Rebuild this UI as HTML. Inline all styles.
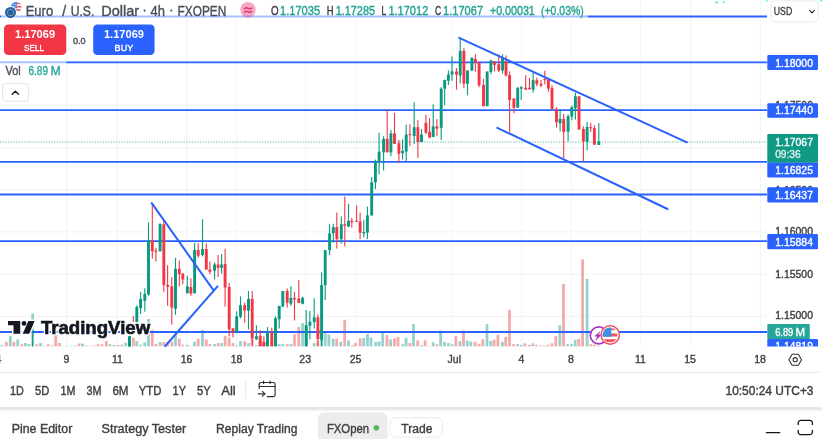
<!DOCTYPE html>
<html><head><meta charset="utf-8"><title>EURUSD chart</title>
<style>html,body{margin:0;padding:0;background:#fff;overflow:hidden}body{width:822px;height:439px;font-family:"Liberation Sans",sans-serif}svg text{font-family:"Liberation Sans",sans-serif}svg{filter:blur(0.35px)}</style>
</head><body>
<svg width="822" height="439" viewBox="0 0 822 439" style="display:block" font-family="Liberation Sans, sans-serif">
<defs><clipPath id="pane"><rect x="0" y="0" width="767.0" height="346.6"/></clipPath></defs>
<rect x="0" y="0" width="822" height="439" fill="#ffffff"/>
<g id="grid" stroke="#f2f3f4" stroke-width="1" clip-path="url(#pane)">
<line x1="66.7" y1="0" x2="66.7" y2="346.6"/>
<line x1="117.1" y1="0" x2="117.1" y2="346.6"/>
<line x1="186.8" y1="0" x2="186.8" y2="346.6"/>
<line x1="236.4" y1="0" x2="236.4" y2="346.6"/>
<line x1="305.9" y1="0" x2="305.9" y2="346.6"/>
<line x1="356.4" y1="0" x2="356.4" y2="346.6"/>
<line x1="451.7" y1="0" x2="451.7" y2="346.6"/>
<line x1="521.7" y1="0" x2="521.7" y2="346.6"/>
<line x1="571.4" y1="0" x2="571.4" y2="346.6"/>
<line x1="640.8" y1="0" x2="640.8" y2="346.6"/>
<line x1="690.7" y1="0" x2="690.7" y2="346.6"/>
<line x1="760.3" y1="0" x2="760.3" y2="346.6"/>
<line x1="0" y1="105.4" x2="767.0" y2="105.4"/>
<line x1="0" y1="147.6" x2="767.0" y2="147.6"/>
<line x1="0" y1="189.9" x2="767.0" y2="189.9"/>
<line x1="0" y1="231.9" x2="767.0" y2="231.9"/>
<line x1="0" y1="274.3" x2="767.0" y2="274.3"/>
<line x1="0" y1="316.5" x2="767.0" y2="316.5"/>
</g>
<g id="vol" clip-path="url(#pane)">
<rect x="0.50" y="345.1" width="2.8" height="1.5" fill="#96d2cd"/>
<rect x="4.90" y="341.9" width="2.8" height="4.7" fill="#f5aaaa"/>
<rect x="8.90" y="336.1" width="2.8" height="10.5" fill="#96d2cd"/>
<rect x="12.50" y="341.9" width="2.8" height="4.7" fill="#f5aaaa"/>
<rect x="16.30" y="339.5" width="2.8" height="7.1" fill="#96d2cd"/>
<rect x="20.40" y="344.3" width="2.8" height="2.3" fill="#f5aaaa"/>
<rect x="23.90" y="343.0" width="2.8" height="3.6" fill="#96d2cd"/>
<rect x="27.50" y="344.0" width="2.8" height="2.6" fill="#96d2cd"/>
<rect x="31.30" y="313.4" width="2.8" height="33.2" fill="#96d2cd"/>
<rect x="35.30" y="344.3" width="2.8" height="2.3" fill="#f5aaaa"/>
<rect x="39.10" y="343.0" width="2.8" height="3.6" fill="#96d2cd"/>
<rect x="42.90" y="345.9" width="2.8" height="0.7" fill="#f5aaaa"/>
<rect x="46.80" y="344.3" width="2.8" height="2.3" fill="#f5aaaa"/>
<rect x="50.80" y="345.5" width="2.8" height="1.1" fill="#96d2cd"/>
<rect x="54.30" y="335.1" width="2.8" height="11.5" fill="#f5aaaa"/>
<rect x="58.10" y="343.0" width="2.8" height="3.6" fill="#f5aaaa"/>
<rect x="61.90" y="346.2" width="2.8" height="0.4" fill="#96d2cd"/>
<rect x="65.80" y="345.9" width="2.8" height="0.7" fill="#96d2cd"/>
<rect x="69.80" y="345.9" width="2.8" height="0.7" fill="#96d2cd"/>
<rect x="73.70" y="345.5" width="2.8" height="1.1" fill="#96d2cd"/>
<rect x="77.70" y="343.5" width="2.8" height="3.1" fill="#f5aaaa"/>
<rect x="81.20" y="343.5" width="2.8" height="3.1" fill="#96d2cd"/>
<rect x="85.00" y="345.5" width="2.8" height="1.1" fill="#f5aaaa"/>
<rect x="88.70" y="345.9" width="2.8" height="0.7" fill="#96d2cd"/>
<rect x="92.90" y="345.5" width="2.8" height="1.1" fill="#f5aaaa"/>
<rect x="96.70" y="344.3" width="2.8" height="2.3" fill="#f5aaaa"/>
<rect x="100.60" y="344.3" width="2.8" height="2.3" fill="#f5aaaa"/>
<rect x="104.90" y="341.1" width="2.8" height="5.5" fill="#f5aaaa"/>
<rect x="108.50" y="344.3" width="2.8" height="2.3" fill="#96d2cd"/>
<rect x="112.50" y="345.1" width="2.8" height="1.5" fill="#96d2cd"/>
<rect x="116.40" y="345.1" width="2.8" height="1.5" fill="#f5aaaa"/>
<rect x="120.40" y="344.6" width="2.8" height="2.0" fill="#96d2cd"/>
<rect x="124.30" y="342.7" width="2.8" height="3.9" fill="#96d2cd"/>
<rect x="128.10" y="336.3" width="2.8" height="10.3" fill="#96d2cd"/>
<rect x="132.00" y="338.0" width="2.8" height="8.6" fill="#f5aaaa"/>
<rect x="135.40" y="341.2" width="2.8" height="5.4" fill="#96d2cd"/>
<rect x="139.20" y="344.6" width="2.8" height="2.0" fill="#96d2cd"/>
<rect x="143.40" y="342.4" width="2.8" height="4.2" fill="#96d2cd"/>
<rect x="147.10" y="319.0" width="2.8" height="27.6" fill="#96d2cd"/>
<rect x="150.90" y="330.0" width="2.8" height="16.6" fill="#f5aaaa"/>
<rect x="154.50" y="343.9" width="2.8" height="2.7" fill="#f5aaaa"/>
<rect x="158.70" y="342.1" width="2.8" height="4.5" fill="#96d2cd"/>
<rect x="162.40" y="342.1" width="2.8" height="4.5" fill="#f5aaaa"/>
<rect x="166.20" y="342.1" width="2.8" height="4.5" fill="#f5aaaa"/>
<rect x="170.40" y="341.7" width="2.8" height="4.9" fill="#f5aaaa"/>
<rect x="174.10" y="333.6" width="2.8" height="13.0" fill="#96d2cd"/>
<rect x="177.90" y="338.7" width="2.8" height="7.9" fill="#f5aaaa"/>
<rect x="181.40" y="344.6" width="2.8" height="2.0" fill="#f5aaaa"/>
<rect x="185.90" y="345.0" width="2.8" height="1.6" fill="#96d2cd"/>
<rect x="189.50" y="346.0" width="2.8" height="0.6" fill="#f5aaaa"/>
<rect x="193.20" y="341.7" width="2.8" height="4.9" fill="#96d2cd"/>
<rect x="196.80" y="338.7" width="2.8" height="7.9" fill="#f5aaaa"/>
<rect x="201.10" y="330.0" width="2.8" height="16.6" fill="#96d2cd"/>
<rect x="204.90" y="339.5" width="2.8" height="7.1" fill="#f5aaaa"/>
<rect x="208.50" y="343.9" width="2.8" height="2.7" fill="#f5aaaa"/>
<rect x="213.20" y="344.1" width="2.8" height="2.5" fill="#96d2cd"/>
<rect x="216.70" y="343.1" width="2.8" height="3.5" fill="#f5aaaa"/>
<rect x="220.20" y="343.1" width="2.8" height="3.5" fill="#96d2cd"/>
<rect x="223.70" y="335.8" width="2.8" height="10.8" fill="#f5aaaa"/>
<rect x="227.80" y="337.7" width="2.8" height="8.9" fill="#f5aaaa"/>
<rect x="231.60" y="343.1" width="2.8" height="3.5" fill="#f5aaaa"/>
<rect x="235.30" y="345.3" width="2.8" height="1.3" fill="#96d2cd"/>
<rect x="239.10" y="341.2" width="2.8" height="5.4" fill="#96d2cd"/>
<rect x="243.30" y="341.2" width="2.8" height="5.4" fill="#f5aaaa"/>
<rect x="247.10" y="343.1" width="2.8" height="3.5" fill="#96d2cd"/>
<rect x="250.80" y="335.1" width="2.8" height="11.5" fill="#f5aaaa"/>
<rect x="255.00" y="345.0" width="2.8" height="1.6" fill="#96d2cd"/>
<rect x="258.80" y="340.0" width="2.8" height="6.6" fill="#f5aaaa"/>
<rect x="262.50" y="342.0" width="2.8" height="4.6" fill="#f5aaaa"/>
<rect x="266.10" y="340.0" width="2.8" height="6.6" fill="#96d2cd"/>
<rect x="270.40" y="341.0" width="2.8" height="5.6" fill="#f5aaaa"/>
<rect x="274.10" y="338.0" width="2.8" height="8.6" fill="#96d2cd"/>
<rect x="277.80" y="344.1" width="2.8" height="2.5" fill="#96d2cd"/>
<rect x="281.40" y="344.1" width="2.8" height="2.5" fill="#96d2cd"/>
<rect x="285.80" y="344.1" width="2.8" height="2.5" fill="#f5aaaa"/>
<rect x="289.50" y="344.1" width="2.8" height="2.5" fill="#96d2cd"/>
<rect x="293.10" y="334.4" width="2.8" height="12.2" fill="#f5aaaa"/>
<rect x="297.40" y="327.1" width="2.8" height="19.5" fill="#f5aaaa"/>
<rect x="301.20" y="323.1" width="2.8" height="23.5" fill="#96d2cd"/>
<rect x="304.80" y="325.3" width="2.8" height="21.3" fill="#96d2cd"/>
<rect x="308.50" y="346.0" width="2.8" height="0.6" fill="#96d2cd"/>
<rect x="312.80" y="343.1" width="2.8" height="3.5" fill="#96d2cd"/>
<rect x="316.50" y="340.9" width="2.8" height="5.7" fill="#f5aaaa"/>
<rect x="320.20" y="332.0" width="2.8" height="14.6" fill="#96d2cd"/>
<rect x="323.80" y="331.4" width="2.8" height="15.2" fill="#96d2cd"/>
<rect x="327.40" y="334.4" width="2.8" height="12.2" fill="#96d2cd"/>
<rect x="331.70" y="338.7" width="2.8" height="7.9" fill="#96d2cd"/>
<rect x="335.30" y="338.7" width="2.8" height="7.9" fill="#f5aaaa"/>
<rect x="339.40" y="341.9" width="2.8" height="4.7" fill="#96d2cd"/>
<rect x="343.30" y="319.8" width="2.8" height="26.8" fill="#f5aaaa"/>
<rect x="347.10" y="340.3" width="2.8" height="6.3" fill="#96d2cd"/>
<rect x="350.90" y="345.1" width="2.8" height="1.5" fill="#f5aaaa"/>
<rect x="354.10" y="343.0" width="2.8" height="3.6" fill="#f5aaaa"/>
<rect x="358.70" y="338.4" width="2.8" height="8.2" fill="#f5aaaa"/>
<rect x="362.30" y="338.0" width="2.8" height="8.6" fill="#96d2cd"/>
<rect x="366.10" y="334.0" width="2.8" height="12.6" fill="#96d2cd"/>
<rect x="369.60" y="337.6" width="2.8" height="9.0" fill="#96d2cd"/>
<rect x="374.30" y="341.9" width="2.8" height="4.7" fill="#96d2cd"/>
<rect x="377.70" y="341.4" width="2.8" height="5.2" fill="#96d2cd"/>
<rect x="381.30" y="331.6" width="2.8" height="15.0" fill="#96d2cd"/>
<rect x="385.60" y="335.1" width="2.8" height="11.5" fill="#f5aaaa"/>
<rect x="389.20" y="339.5" width="2.8" height="7.1" fill="#96d2cd"/>
<rect x="393.00" y="338.4" width="2.8" height="8.2" fill="#f5aaaa"/>
<rect x="396.60" y="336.8" width="2.8" height="9.8" fill="#f5aaaa"/>
<rect x="401.40" y="344.3" width="2.8" height="2.3" fill="#96d2cd"/>
<rect x="404.70" y="337.6" width="2.8" height="9.0" fill="#96d2cd"/>
<rect x="408.50" y="343.0" width="2.8" height="3.6" fill="#f5aaaa"/>
<rect x="412.10" y="324.0" width="2.8" height="22.6" fill="#96d2cd"/>
<rect x="416.30" y="340.3" width="2.8" height="6.3" fill="#f5aaaa"/>
<rect x="420.00" y="345.1" width="2.8" height="1.5" fill="#96d2cd"/>
<rect x="423.70" y="340.3" width="2.8" height="6.3" fill="#f5aaaa"/>
<rect x="428.00" y="345.9" width="2.8" height="0.7" fill="#f5aaaa"/>
<rect x="431.80" y="342.2" width="2.8" height="4.4" fill="#96d2cd"/>
<rect x="435.40" y="344.3" width="2.8" height="2.3" fill="#f5aaaa"/>
<rect x="439.20" y="330.4" width="2.8" height="16.2" fill="#96d2cd"/>
<rect x="443.10" y="341.9" width="2.8" height="4.7" fill="#96d2cd"/>
<rect x="446.90" y="343.0" width="2.8" height="3.6" fill="#96d2cd"/>
<rect x="450.60" y="344.3" width="2.8" height="2.3" fill="#96d2cd"/>
<rect x="454.50" y="336.1" width="2.8" height="10.5" fill="#f5aaaa"/>
<rect x="458.50" y="341.1" width="2.8" height="5.5" fill="#96d2cd"/>
<rect x="462.10" y="330.4" width="2.8" height="16.2" fill="#f5aaaa"/>
<rect x="465.90" y="340.4" width="2.8" height="6.2" fill="#96d2cd"/>
<rect x="469.50" y="341.5" width="2.8" height="5.1" fill="#96d2cd"/>
<rect x="473.80" y="341.9" width="2.8" height="4.7" fill="#f5aaaa"/>
<rect x="477.60" y="343.7" width="2.8" height="2.9" fill="#f5aaaa"/>
<rect x="481.40" y="339.3" width="2.8" height="7.3" fill="#f5aaaa"/>
<rect x="485.60" y="324.1" width="2.8" height="22.5" fill="#96d2cd"/>
<rect x="489.40" y="341.0" width="2.8" height="5.6" fill="#96d2cd"/>
<rect x="492.70" y="339.7" width="2.8" height="6.9" fill="#f5aaaa"/>
<rect x="496.50" y="334.8" width="2.8" height="11.8" fill="#f5aaaa"/>
<rect x="501.00" y="341.9" width="2.8" height="4.7" fill="#96d2cd"/>
<rect x="504.30" y="337.0" width="2.8" height="9.6" fill="#f5aaaa"/>
<rect x="508.10" y="309.8" width="2.8" height="36.8" fill="#f5aaaa"/>
<rect x="512.20" y="344.2" width="2.8" height="2.4" fill="#f5aaaa"/>
<rect x="516.20" y="344.2" width="2.8" height="2.4" fill="#96d2cd"/>
<rect x="520.00" y="344.8" width="2.8" height="1.8" fill="#96d2cd"/>
<rect x="523.50" y="343.3" width="2.8" height="3.3" fill="#f5aaaa"/>
<rect x="527.80" y="344.8" width="2.8" height="1.8" fill="#f5aaaa"/>
<rect x="531.40" y="343.3" width="2.8" height="3.3" fill="#96d2cd"/>
<rect x="535.10" y="344.8" width="2.8" height="1.8" fill="#f5aaaa"/>
<rect x="539.10" y="345.5" width="2.8" height="1.1" fill="#f5aaaa"/>
<rect x="543.00" y="345.5" width="2.8" height="1.1" fill="#f5aaaa"/>
<rect x="546.70" y="344.8" width="2.8" height="1.8" fill="#f5aaaa"/>
<rect x="550.50" y="343.3" width="2.8" height="3.3" fill="#f5aaaa"/>
<rect x="554.40" y="335.9" width="2.8" height="10.7" fill="#f5aaaa"/>
<rect x="558.40" y="325.2" width="2.8" height="21.4" fill="#96d2cd"/>
<rect x="562.10" y="283.9" width="2.8" height="62.7" fill="#f5aaaa"/>
<rect x="566.20" y="344.2" width="2.8" height="2.4" fill="#96d2cd"/>
<rect x="570.20" y="344.2" width="2.8" height="2.4" fill="#96d2cd"/>
<rect x="573.80" y="339.7" width="2.8" height="6.9" fill="#96d2cd"/>
<rect x="577.40" y="338.8" width="2.8" height="7.8" fill="#f5aaaa"/>
<rect x="581.20" y="259.4" width="2.8" height="87.2" fill="#f5aaaa"/>
<rect x="585.70" y="279.0" width="2.8" height="67.6" fill="#96d2cd"/>
<rect x="589.50" y="344.2" width="2.8" height="2.4" fill="#f5aaaa"/>
<rect x="593.20" y="344.8" width="2.8" height="1.8" fill="#f5aaaa"/>
<rect x="597.00" y="345.7" width="2.8" height="0.9" fill="#96d2cd"/>
</g>
<g id="hlines" stroke="#2962ff" stroke-width="1.8">
<line x1="0" y1="16.5" x2="767.0" y2="16.5"/>
<line x1="0" y1="62.4" x2="767.0" y2="62.4"/>
<line x1="0" y1="110.1" x2="767.0" y2="110.1"/>
<line x1="0" y1="161.9" x2="767.0" y2="161.9"/>
<line x1="0" y1="194.5" x2="767.0" y2="194.5"/>
<line x1="0" y1="241.1" x2="767.0" y2="241.1"/>
<line x1="0" y1="332.0" x2="767.0" y2="332.0"/>
</g>
<g id="candles" clip-path="url(#pane)">
<rect x="32.15" y="329.3" width="1.1" height="17.7" fill="#089981"/>
<rect x="128.95" y="335.5" width="1.1" height="11.5" fill="#089981"/>
<rect x="128.05" y="336.3" width="2.9" height="10.7" fill="#089981"/>
<rect x="132.85" y="316.1" width="1.1" height="5.9" fill="#f23645"/>
<rect x="136.25" y="305.2" width="1.1" height="17.0" fill="#089981"/>
<rect x="135.35" y="307.1" width="2.9" height="15.1" fill="#089981"/>
<rect x="140.05" y="292.0" width="1.1" height="21.9" fill="#089981"/>
<rect x="139.15" y="299.0" width="2.9" height="9.1" fill="#089981"/>
<rect x="144.25" y="288.4" width="1.1" height="23.3" fill="#089981"/>
<rect x="143.35" y="293.9" width="2.9" height="6.9" fill="#089981"/>
<rect x="147.95" y="222.4" width="1.1" height="73.3" fill="#089981"/>
<rect x="147.05" y="240.4" width="2.9" height="54.1" fill="#089981"/>
<rect x="151.75" y="203.1" width="1.1" height="55.5" fill="#f23645"/>
<rect x="150.85" y="240.4" width="2.9" height="10.9" fill="#f23645"/>
<rect x="155.35" y="247.7" width="1.1" height="13.8" fill="#f23645"/>
<rect x="154.45" y="250.6" width="2.9" height="1.2" fill="#f23645"/>
<rect x="159.55" y="223.3" width="1.1" height="28.0" fill="#089981"/>
<rect x="158.65" y="223.9" width="2.9" height="27.4" fill="#089981"/>
<rect x="163.25" y="219.2" width="1.1" height="73.0" fill="#f23645"/>
<rect x="162.35" y="224.3" width="2.9" height="60.6" fill="#f23645"/>
<rect x="167.05" y="265.2" width="1.1" height="40.7" fill="#f23645"/>
<rect x="166.15" y="284.9" width="2.9" height="1.9" fill="#f23645"/>
<rect x="171.25" y="276.9" width="1.1" height="47.7" fill="#f23645"/>
<rect x="170.35" y="286.4" width="2.9" height="21.2" fill="#f23645"/>
<rect x="174.95" y="257.9" width="1.1" height="57.0" fill="#089981"/>
<rect x="174.05" y="268.8" width="2.9" height="40.0" fill="#089981"/>
<rect x="178.75" y="260.5" width="1.1" height="25.9" fill="#f23645"/>
<rect x="177.85" y="268.8" width="2.9" height="5.4" fill="#f23645"/>
<rect x="182.25" y="273.0" width="1.1" height="11.2" fill="#f23645"/>
<rect x="181.35" y="273.7" width="2.9" height="5.8" fill="#f23645"/>
<rect x="186.75" y="275.7" width="1.1" height="17.8" fill="#089981"/>
<rect x="185.85" y="286.4" width="2.9" height="6.8" fill="#089981"/>
<rect x="190.35" y="278.3" width="1.1" height="17.5" fill="#f23645"/>
<rect x="189.45" y="287.1" width="2.9" height="6.5" fill="#f23645"/>
<rect x="194.05" y="243.0" width="1.1" height="50.5" fill="#089981"/>
<rect x="193.15" y="249.9" width="2.9" height="43.3" fill="#089981"/>
<rect x="197.65" y="243.3" width="1.1" height="14.3" fill="#f23645"/>
<rect x="196.75" y="249.9" width="2.9" height="5.8" fill="#f23645"/>
<rect x="201.95" y="219.2" width="1.1" height="37.2" fill="#089981"/>
<rect x="201.05" y="249.1" width="2.9" height="5.9" fill="#089981"/>
<rect x="205.75" y="243.3" width="1.1" height="26.3" fill="#f23645"/>
<rect x="204.85" y="249.1" width="2.9" height="20.5" fill="#f23645"/>
<rect x="209.35" y="261.5" width="1.1" height="12.7" fill="#f23645"/>
<rect x="208.45" y="269.6" width="2.9" height="2.2" fill="#f23645"/>
<rect x="214.05" y="262.3" width="1.1" height="17.2" fill="#089981"/>
<rect x="213.15" y="264.5" width="2.9" height="6.2" fill="#089981"/>
<rect x="217.55" y="255.0" width="1.1" height="21.9" fill="#f23645"/>
<rect x="216.65" y="264.5" width="2.9" height="3.3" fill="#f23645"/>
<rect x="221.05" y="254.2" width="1.1" height="19.5" fill="#089981"/>
<rect x="220.15" y="264.5" width="2.9" height="3.3" fill="#089981"/>
<rect x="224.55" y="248.8" width="1.1" height="57.8" fill="#f23645"/>
<rect x="223.65" y="264.0" width="2.9" height="23.5" fill="#f23645"/>
<rect x="228.65" y="283.0" width="1.1" height="53.6" fill="#f23645"/>
<rect x="227.75" y="287.1" width="2.9" height="42.2" fill="#f23645"/>
<rect x="232.45" y="327.8" width="1.1" height="9.5" fill="#f23645"/>
<rect x="231.55" y="328.5" width="2.9" height="3.7" fill="#f23645"/>
<rect x="236.15" y="311.4" width="1.1" height="20.6" fill="#089981"/>
<rect x="235.25" y="316.4" width="2.9" height="15.6" fill="#089981"/>
<rect x="239.95" y="296.4" width="1.1" height="21.9" fill="#089981"/>
<rect x="239.05" y="305.2" width="2.9" height="11.6" fill="#089981"/>
<rect x="244.15" y="302.7" width="1.1" height="20.0" fill="#f23645"/>
<rect x="243.25" y="305.2" width="2.9" height="5.4" fill="#f23645"/>
<rect x="247.95" y="291.0" width="1.1" height="38.3" fill="#089981"/>
<rect x="247.05" y="299.0" width="2.9" height="11.6" fill="#089981"/>
<rect x="251.65" y="291.0" width="1.1" height="55.5" fill="#f23645"/>
<rect x="250.75" y="299.0" width="2.9" height="39.0" fill="#f23645"/>
<rect x="255.85" y="325.3" width="1.1" height="14.7" fill="#089981"/>
<rect x="254.95" y="336.3" width="2.9" height="2.9" fill="#089981"/>
<rect x="259.65" y="330.0" width="1.1" height="16.5" fill="#f23645"/>
<rect x="258.75" y="335.8" width="2.9" height="10.7" fill="#f23645"/>
<rect x="263.35" y="336.3" width="1.1" height="10.2" fill="#f23645"/>
<rect x="262.45" y="341.7" width="2.9" height="4.8" fill="#f23645"/>
<rect x="266.95" y="327.1" width="1.1" height="19.4" fill="#089981"/>
<rect x="266.05" y="332.2" width="2.9" height="14.3" fill="#089981"/>
<rect x="271.25" y="327.8" width="1.1" height="18.7" fill="#f23645"/>
<rect x="270.35" y="332.2" width="2.9" height="14.3" fill="#f23645"/>
<rect x="274.95" y="316.4" width="1.1" height="30.1" fill="#089981"/>
<rect x="274.05" y="318.3" width="2.9" height="28.2" fill="#089981"/>
<rect x="278.65" y="305.9" width="1.1" height="22.6" fill="#089981"/>
<rect x="277.75" y="305.9" width="2.9" height="13.4" fill="#089981"/>
<rect x="282.25" y="291.0" width="1.1" height="15.6" fill="#089981"/>
<rect x="281.35" y="291.0" width="2.9" height="15.6" fill="#089981"/>
<rect x="286.65" y="288.4" width="1.1" height="19.2" fill="#f23645"/>
<rect x="285.75" y="291.0" width="2.9" height="11.7" fill="#f23645"/>
<rect x="290.35" y="286.2" width="1.1" height="19.7" fill="#089981"/>
<rect x="289.45" y="297.9" width="2.9" height="5.8" fill="#089981"/>
<rect x="293.95" y="292.0" width="1.1" height="28.5" fill="#f23645"/>
<rect x="293.05" y="297.9" width="2.9" height="1.4" fill="#f23645"/>
<rect x="298.25" y="280.0" width="1.1" height="23.0" fill="#f23645"/>
<rect x="297.35" y="298.6" width="2.9" height="4.4" fill="#f23645"/>
<rect x="302.05" y="296.8" width="1.1" height="7.6" fill="#089981"/>
<rect x="301.15" y="297.9" width="2.9" height="5.8" fill="#089981"/>
<rect x="305.65" y="310.0" width="1.1" height="36.5" fill="#089981"/>
<rect x="304.75" y="325.3" width="2.9" height="21.2" fill="#089981"/>
<rect x="309.35" y="311.0" width="1.1" height="28.2" fill="#089981"/>
<rect x="308.45" y="321.7" width="2.9" height="3.9" fill="#089981"/>
<rect x="313.65" y="298.3" width="1.1" height="30.2" fill="#089981"/>
<rect x="312.75" y="317.3" width="2.9" height="4.7" fill="#089981"/>
<rect x="317.35" y="314.4" width="1.1" height="32.1" fill="#f23645"/>
<rect x="316.45" y="317.3" width="2.9" height="21.9" fill="#f23645"/>
<rect x="321.05" y="272.4" width="1.1" height="74.1" fill="#089981"/>
<rect x="320.15" y="285.1" width="2.9" height="54.7" fill="#089981"/>
<rect x="324.65" y="250.1" width="1.1" height="49.9" fill="#089981"/>
<rect x="323.75" y="250.1" width="2.9" height="35.0" fill="#089981"/>
<rect x="329.05" y="224.3" width="1.1" height="30.9" fill="#089981"/>
<rect x="328.15" y="233.5" width="2.9" height="16.6" fill="#089981"/>
<rect x="332.75" y="223.7" width="1.1" height="19.1" fill="#089981"/>
<rect x="331.85" y="227.2" width="2.9" height="6.1" fill="#089981"/>
<rect x="336.25" y="212.6" width="1.1" height="36.0" fill="#f23645"/>
<rect x="335.35" y="227.0" width="2.9" height="12.1" fill="#f23645"/>
<rect x="340.75" y="216.4" width="1.1" height="27.1" fill="#089981"/>
<rect x="339.85" y="224.3" width="2.9" height="14.8" fill="#089981"/>
<rect x="344.25" y="196.6" width="1.1" height="49.8" fill="#f23645"/>
<rect x="343.35" y="224.3" width="2.9" height="1.5" fill="#f23645"/>
<rect x="347.95" y="203.9" width="1.1" height="23.1" fill="#089981"/>
<rect x="347.05" y="220.8" width="2.9" height="5.7" fill="#089981"/>
<rect x="351.25" y="217.9" width="1.1" height="9.8" fill="#f23645"/>
<rect x="350.35" y="220.8" width="2.9" height="1.5" fill="#f23645"/>
<rect x="356.05" y="205.3" width="1.1" height="16.7" fill="#f23645"/>
<rect x="355.15" y="220.8" width="2.9" height="1.0" fill="#f23645"/>
<rect x="359.55" y="212.6" width="1.1" height="26.5" fill="#f23645"/>
<rect x="358.65" y="221.4" width="2.9" height="11.2" fill="#f23645"/>
<rect x="363.25" y="219.9" width="1.1" height="17.5" fill="#089981"/>
<rect x="362.35" y="232.0" width="2.9" height="1.3" fill="#089981"/>
<rect x="366.85" y="206.5" width="1.1" height="32.6" fill="#089981"/>
<rect x="365.95" y="215.3" width="2.9" height="17.3" fill="#089981"/>
<rect x="371.15" y="177.0" width="1.1" height="38.5" fill="#089981"/>
<rect x="370.25" y="182.4" width="2.9" height="33.1" fill="#089981"/>
<rect x="374.85" y="159.6" width="1.1" height="29.4" fill="#089981"/>
<rect x="373.95" y="161.1" width="2.9" height="21.3" fill="#089981"/>
<rect x="378.55" y="132.6" width="1.1" height="41.8" fill="#089981"/>
<rect x="377.65" y="151.6" width="2.9" height="10.2" fill="#089981"/>
<rect x="383.05" y="136.3" width="1.1" height="34.3" fill="#089981"/>
<rect x="382.15" y="138.9" width="2.9" height="13.4" fill="#089981"/>
<rect x="386.65" y="109.1" width="1.1" height="43.2" fill="#f23645"/>
<rect x="385.75" y="138.9" width="2.9" height="13.4" fill="#f23645"/>
<rect x="390.35" y="130.1" width="1.1" height="25.9" fill="#089981"/>
<rect x="389.45" y="133.4" width="2.9" height="18.9" fill="#089981"/>
<rect x="393.95" y="112.9" width="1.1" height="31.0" fill="#f23645"/>
<rect x="393.05" y="133.4" width="2.9" height="10.5" fill="#f23645"/>
<rect x="398.35" y="139.9" width="1.1" height="22.7" fill="#f23645"/>
<rect x="397.45" y="143.3" width="2.9" height="10.5" fill="#f23645"/>
<rect x="402.05" y="139.2" width="1.1" height="20.4" fill="#089981"/>
<rect x="401.15" y="150.9" width="2.9" height="2.2" fill="#089981"/>
<rect x="405.65" y="124.6" width="1.1" height="37.2" fill="#089981"/>
<rect x="404.75" y="134.5" width="2.9" height="17.1" fill="#089981"/>
<rect x="409.35" y="124.3" width="1.1" height="21.5" fill="#f23645"/>
<rect x="408.45" y="134.1" width="2.9" height="1.0" fill="#f23645"/>
<rect x="413.65" y="102.3" width="1.1" height="41.6" fill="#089981"/>
<rect x="412.75" y="127.2" width="2.9" height="8.8" fill="#089981"/>
<rect x="417.35" y="120.2" width="1.1" height="37.7" fill="#f23645"/>
<rect x="416.45" y="127.2" width="2.9" height="14.6" fill="#f23645"/>
<rect x="420.95" y="129.0" width="1.1" height="13.1" fill="#089981"/>
<rect x="420.05" y="134.5" width="2.9" height="7.6" fill="#089981"/>
<rect x="425.35" y="114.7" width="1.1" height="19.4" fill="#f23645"/>
<rect x="424.45" y="122.8" width="2.9" height="9.8" fill="#f23645"/>
<rect x="429.05" y="118.0" width="1.1" height="19.7" fill="#f23645"/>
<rect x="428.15" y="131.9" width="2.9" height="5.8" fill="#f23645"/>
<rect x="432.65" y="104.3" width="1.1" height="32.7" fill="#089981"/>
<rect x="431.75" y="126.4" width="2.9" height="10.6" fill="#089981"/>
<rect x="436.35" y="119.1" width="1.1" height="16.9" fill="#f23645"/>
<rect x="435.45" y="126.4" width="2.9" height="2.3" fill="#f23645"/>
<rect x="440.65" y="87.2" width="1.1" height="52.7" fill="#089981"/>
<rect x="439.75" y="88.7" width="2.9" height="39.1" fill="#089981"/>
<rect x="444.15" y="79.9" width="1.1" height="25.3" fill="#089981"/>
<rect x="443.25" y="79.9" width="2.9" height="8.8" fill="#089981"/>
<rect x="447.85" y="70.4" width="1.1" height="14.6" fill="#089981"/>
<rect x="446.95" y="74.5" width="2.9" height="6.2" fill="#089981"/>
<rect x="451.45" y="56.4" width="1.1" height="24.4" fill="#089981"/>
<rect x="450.55" y="71.3" width="2.9" height="3.3" fill="#089981"/>
<rect x="455.95" y="68.0" width="1.1" height="21.7" fill="#f23645"/>
<rect x="455.05" y="71.5" width="2.9" height="3.1" fill="#f23645"/>
<rect x="459.65" y="37.9" width="1.1" height="45.5" fill="#089981"/>
<rect x="458.75" y="50.9" width="2.9" height="24.6" fill="#089981"/>
<rect x="463.35" y="48.1" width="1.1" height="40.1" fill="#f23645"/>
<rect x="462.45" y="50.9" width="2.9" height="32.8" fill="#f23645"/>
<rect x="466.95" y="70.5" width="1.1" height="24.8" fill="#089981"/>
<rect x="466.05" y="70.5" width="2.9" height="13.2" fill="#089981"/>
<rect x="471.35" y="57.1" width="1.1" height="13.6" fill="#089981"/>
<rect x="470.45" y="58.0" width="2.9" height="12.7" fill="#089981"/>
<rect x="474.85" y="54.4" width="1.1" height="17.2" fill="#f23645"/>
<rect x="473.95" y="59.0" width="2.9" height="3.3" fill="#f23645"/>
<rect x="478.55" y="61.7" width="1.1" height="25.5" fill="#f23645"/>
<rect x="477.65" y="62.3" width="2.9" height="23.0" fill="#f23645"/>
<rect x="482.95" y="78.9" width="1.1" height="27.3" fill="#f23645"/>
<rect x="482.05" y="85.0" width="2.9" height="21.2" fill="#f23645"/>
<rect x="486.65" y="71.5" width="1.1" height="34.7" fill="#089981"/>
<rect x="485.75" y="71.5" width="2.9" height="34.7" fill="#089981"/>
<rect x="490.35" y="59.8" width="1.1" height="14.4" fill="#089981"/>
<rect x="489.45" y="60.5" width="2.9" height="11.4" fill="#089981"/>
<rect x="493.95" y="61.2" width="1.1" height="10.2" fill="#f23645"/>
<rect x="493.05" y="61.2" width="2.9" height="3.7" fill="#f23645"/>
<rect x="498.25" y="54.4" width="1.1" height="17.5" fill="#f23645"/>
<rect x="497.35" y="64.1" width="2.9" height="6.6" fill="#f23645"/>
<rect x="502.05" y="54.4" width="1.1" height="19.2" fill="#089981"/>
<rect x="501.15" y="57.9" width="2.9" height="12.5" fill="#089981"/>
<rect x="505.45" y="55.4" width="1.1" height="21.2" fill="#f23645"/>
<rect x="504.55" y="61.2" width="2.9" height="14.2" fill="#f23645"/>
<rect x="509.05" y="71.4" width="1.1" height="60.8" fill="#f23645"/>
<rect x="508.15" y="75.1" width="2.9" height="24.8" fill="#f23645"/>
<rect x="513.35" y="98.0" width="1.1" height="15.4" fill="#f23645"/>
<rect x="512.45" y="98.5" width="2.9" height="9.2" fill="#f23645"/>
<rect x="517.15" y="86.8" width="1.1" height="20.9" fill="#089981"/>
<rect x="516.25" y="88.2" width="2.9" height="19.5" fill="#089981"/>
<rect x="520.65" y="86.1" width="1.1" height="13.8" fill="#089981"/>
<rect x="519.75" y="87.2" width="2.9" height="1.5" fill="#089981"/>
<rect x="525.15" y="75.1" width="1.1" height="14.6" fill="#f23645"/>
<rect x="524.25" y="87.8" width="2.9" height="1.9" fill="#f23645"/>
<rect x="528.95" y="78.0" width="1.1" height="11.3" fill="#f23645"/>
<rect x="528.05" y="87.8" width="2.9" height="1.5" fill="#f23645"/>
<rect x="532.55" y="72.9" width="1.1" height="19.7" fill="#089981"/>
<rect x="531.65" y="80.2" width="2.9" height="9.5" fill="#089981"/>
<rect x="536.25" y="77.8" width="1.1" height="8.4" fill="#f23645"/>
<rect x="535.35" y="80.2" width="2.9" height="3.6" fill="#f23645"/>
<rect x="540.45" y="80.0" width="1.1" height="7.2" fill="#f23645"/>
<rect x="539.55" y="83.9" width="2.9" height="1.7" fill="#f23645"/>
<rect x="544.25" y="70.7" width="1.1" height="13.7" fill="#f23645"/>
<rect x="543.35" y="79.0" width="2.9" height="1.2" fill="#f23645"/>
<rect x="547.85" y="78.7" width="1.1" height="12.9" fill="#f23645"/>
<rect x="546.95" y="79.5" width="2.9" height="9.2" fill="#f23645"/>
<rect x="551.45" y="85.3" width="1.1" height="23.8" fill="#f23645"/>
<rect x="550.55" y="88.2" width="2.9" height="20.9" fill="#f23645"/>
<rect x="555.95" y="107.2" width="1.1" height="20.4" fill="#f23645"/>
<rect x="555.05" y="109.1" width="2.9" height="13.2" fill="#f23645"/>
<rect x="559.55" y="109.1" width="1.1" height="22.3" fill="#089981"/>
<rect x="558.65" y="118.9" width="2.9" height="4.4" fill="#089981"/>
<rect x="563.15" y="113.9" width="1.1" height="44.6" fill="#f23645"/>
<rect x="562.25" y="118.9" width="2.9" height="13.0" fill="#f23645"/>
<rect x="567.55" y="114.4" width="1.1" height="27.0" fill="#089981"/>
<rect x="566.65" y="116.2" width="2.9" height="15.4" fill="#089981"/>
<rect x="571.25" y="105.8" width="1.1" height="14.5" fill="#089981"/>
<rect x="570.35" y="107.2" width="2.9" height="9.3" fill="#089981"/>
<rect x="574.85" y="92.6" width="1.1" height="27.0" fill="#089981"/>
<rect x="573.95" y="96.3" width="2.9" height="11.9" fill="#089981"/>
<rect x="578.45" y="96.3" width="1.1" height="33.2" fill="#f23645"/>
<rect x="577.55" y="96.3" width="2.9" height="33.2" fill="#f23645"/>
<rect x="582.85" y="126.3" width="1.1" height="35.5" fill="#f23645"/>
<rect x="581.95" y="129.0" width="2.9" height="12.4" fill="#f23645"/>
<rect x="586.55" y="121.9" width="1.1" height="28.2" fill="#089981"/>
<rect x="585.65" y="127.0" width="2.9" height="14.8" fill="#089981"/>
<rect x="590.15" y="122.8" width="1.1" height="9.1" fill="#f23645"/>
<rect x="589.25" y="127.2" width="2.9" height="1.0" fill="#f23645"/>
<rect x="593.85" y="125.3" width="1.1" height="19.4" fill="#f23645"/>
<rect x="592.95" y="128.2" width="2.9" height="16.5" fill="#f23645"/>
<rect x="598.25" y="123.1" width="1.1" height="21.9" fill="#089981"/>
<rect x="597.35" y="141.4" width="2.9" height="3.6" fill="#089981"/>
</g>
<line x1="0" y1="142.0" x2="766.0" y2="142.0" stroke="#089981" stroke-width="1.3" stroke-dasharray="1.35 1.35" opacity="0.42"/>
<g id="tlines" stroke="#2962ff" stroke-width="2.0" stroke-linecap="round" fill="none">
<line x1="459.2" y1="37.9" x2="686.9" y2="142.3"/>
<line x1="497.3" y1="127.8" x2="667.5" y2="209.0"/>
<line x1="151.8" y1="203.1" x2="213.4" y2="290.2"/>
<line x1="165.3" y1="346" x2="217.5" y2="286.3"/>
</g><g id="tvlogo">
<g stroke="#ffffff" stroke-width="3" stroke-linejoin="round" fill="#ffffff">
<path d="M8 320.9h12.2v12.9h-6.7v-8.5h-5.5z"/><circle cx="24.0" cy="323.4" r="2.4"/><path d="M28.4 320.9h6.2l-5.4 12.9h-6.5z"/>
</g>
<text x="40.9" y="334" font-size="19" font-weight="700" textLength="109.3" lengthAdjust="spacingAndGlyphs" stroke="#ffffff" stroke-width="3.2" stroke-linejoin="round" fill="#ffffff">TradingView</text>
<g fill="#131722">
<path d="M8 320.9h12.2v12.9h-6.7v-8.5h-5.5z"/><circle cx="24.0" cy="323.4" r="2.4"/><path d="M28.4 320.9h6.2l-5.4 12.9h-6.5z"/>
</g>
<text x="40.9" y="334" font-size="19" font-weight="700" textLength="109.3" lengthAdjust="spacingAndGlyphs" fill="#131722" stroke="#131722" stroke-width="0.7" stroke-linejoin="round">TradingView</text>
</g>
<g id="events">
<circle cx="598.8" cy="335.4" r="8.5" fill="#ffffff" stroke="#a535c0" stroke-width="1.6"/>
<path d="M600.0 331.8L594.9 336.2L597.6 336.2L595.8 340.2L601.0 335.0L598.3 335.0Z" fill="#a030bc" stroke="#a030bc" stroke-width="0.5" stroke-linejoin="round"/>
<circle cx="610.2" cy="335.0" r="9.2" fill="#ffffff" stroke="#f2505d" stroke-width="1.5"/>
<clipPath id="usf"><circle cx="610.0" cy="334.9" r="7.4"/></clipPath>
<g clip-path="url(#usf)"><rect x="602" y="327" width="17" height="17" fill="#ffffff"/>
<rect x="602" y="328.4" width="17" height="1.7" fill="#f2525a"/>
<rect x="602" y="333.5" width="17" height="3.0" fill="#f2525a"/>
<rect x="602" y="339.2" width="17" height="3.2" fill="#f2525a"/>
<rect x="602" y="327" width="9.3" height="9.8" fill="#3d8fe6"/></g>
</g>
<rect x="1" y="0" width="587" height="19.5" fill="#ffffff" opacity="0.6"/>
<rect x="0" y="61.3" width="66.2" height="19" fill="#ffffff" opacity="0.6"/>
<g id="flags">
<clipPath id="usc"><circle cx="16.3" cy="7.0" r="5.3"/></clipPath>
<g clip-path="url(#usc)"><rect x="10" y="1" width="13" height="13" fill="#ffffff"/>
<rect x="10" y="2.6" width="13" height="1.7" fill="#f45b5b"/>
<rect x="10" y="5.9" width="13" height="1.7" fill="#f45b5b"/>
<rect x="10" y="9.2" width="13" height="1.7" fill="#f45b5b"/>
<rect x="10" y="1" width="6.9" height="7.6" fill="#4a90e2"/>
<rect x="13.2" y="3.8" width="0.9" height="0.9" fill="#d8e8fb"/>
<rect x="15.3" y="3.8" width="0.9" height="0.9" fill="#d8e8fb"/>
<rect x="13.2" y="6.2" width="0.9" height="0.9" fill="#d8e8fb"/>
<rect x="15.3" y="6.2" width="0.9" height="0.9" fill="#d8e8fb"/>
</g>
<circle cx="10.5" cy="12.5" r="6.4" fill="#ffffff"/>
<circle cx="10.5" cy="12.5" r="5.5" fill="#1b5eb4"/>
<circle cx="13.60" cy="12.50" r="0.55" fill="#e8c930"/>
<circle cx="13.18" cy="14.05" r="0.55" fill="#e8c930"/>
<circle cx="12.05" cy="15.18" r="0.55" fill="#e8c930"/>
<circle cx="10.50" cy="15.60" r="0.55" fill="#e8c930"/>
<circle cx="8.95" cy="15.18" r="0.55" fill="#e8c930"/>
<circle cx="7.82" cy="14.05" r="0.55" fill="#e8c930"/>
<circle cx="7.40" cy="12.50" r="0.55" fill="#e8c930"/>
<circle cx="7.82" cy="10.95" r="0.55" fill="#e8c930"/>
<circle cx="8.95" cy="9.82" r="0.55" fill="#e8c930"/>
<circle cx="10.50" cy="9.40" r="0.55" fill="#e8c930"/>
<circle cx="12.05" cy="9.82" r="0.55" fill="#e8c930"/>
<circle cx="13.18" cy="10.95" r="0.55" fill="#e8c930"/>
</g>
<text x="25.7" y="15.6" font-size="14" fill="#4a4e59" font-weight="400" text-anchor="start" textLength="27.5" lengthAdjust="spacingAndGlyphs" stroke="#4a4e59" stroke-width="0.38">Euro</text>
<text x="70.7" y="15.6" font-size="14" fill="#4a4e59" font-weight="400" text-anchor="start" textLength="23.6" lengthAdjust="spacingAndGlyphs" stroke="#4a4e59" stroke-width="0.38">U.S.</text>
<text x="101.2" y="15.6" font-size="14" fill="#4a4e59" font-weight="400" text-anchor="start" textLength="38.0" lengthAdjust="spacingAndGlyphs" stroke="#4a4e59" stroke-width="0.38">Dollar</text>
<text x="150.5" y="15.6" font-size="14" fill="#4a4e59" font-weight="400" text-anchor="start" textLength="14.4" lengthAdjust="spacingAndGlyphs" stroke="#4a4e59" stroke-width="0.38">4h</text>
<text x="177.6" y="15.6" font-size="14" fill="#4a4e59" font-weight="400" text-anchor="start" textLength="48.7" lengthAdjust="spacingAndGlyphs" stroke="#4a4e59" stroke-width="0.38">FXOPEN</text>
<text x="64.1" y="15.6" font-size="14" fill="#4a4e59" font-weight="400" text-anchor="middle" stroke="#4a4e59" stroke-width="0.38">/</text>
<circle cx="144.6" cy="10.6" r="1.05" fill="#4a4e59"/><circle cx="171.3" cy="10.6" r="1.05" fill="#4a4e59"/>
<circle cx="248" cy="9.8" r="7.7" fill="#e91e63" opacity="0.38"/>
<g stroke="#e03871" stroke-width="1.5" fill="none" stroke-linecap="round"><path d="M244.4 8.7q1.9-1.6 3.7-0.4t3.6-0.4"/><path d="M244.4 12.2q1.9-1.6 3.7-0.4t3.6-0.4"/></g>
<text x="271.1" y="14.9" font-size="12" fill="#3f4045" font-weight="400" text-anchor="start" textLength="7.6" lengthAdjust="spacingAndGlyphs" stroke="#3f4045" stroke-width="0.38">O</text>
<text x="280.0" y="14.9" font-size="12" fill="#22a493" font-weight="400" text-anchor="start" textLength="40.1" lengthAdjust="spacingAndGlyphs" stroke="#22a493" stroke-width="0.38">1.17035</text>
<text x="326.8" y="14.9" font-size="12" fill="#3f4045" font-weight="400" text-anchor="start" textLength="6.8" lengthAdjust="spacingAndGlyphs" stroke="#3f4045" stroke-width="0.38">H</text>
<text x="335.7" y="14.9" font-size="12" fill="#22a493" font-weight="400" text-anchor="start" textLength="39.3" lengthAdjust="spacingAndGlyphs" stroke="#22a493" stroke-width="0.38">1.17285</text>
<text x="381.6" y="14.9" font-size="12" fill="#3f4045" font-weight="400" text-anchor="start" textLength="4.8" lengthAdjust="spacingAndGlyphs" stroke="#3f4045" stroke-width="0.38">L</text>
<text x="388.4" y="14.9" font-size="12" fill="#22a493" font-weight="400" text-anchor="start" textLength="39.9" lengthAdjust="spacingAndGlyphs" stroke="#22a493" stroke-width="0.38">1.17012</text>
<text x="434.9" y="14.9" font-size="12" fill="#3f4045" font-weight="400" text-anchor="start" textLength="6.2" lengthAdjust="spacingAndGlyphs" stroke="#3f4045" stroke-width="0.38">C</text>
<text x="443.0" y="14.9" font-size="12" fill="#22a493" font-weight="400" text-anchor="start" textLength="40.1" lengthAdjust="spacingAndGlyphs" stroke="#22a493" stroke-width="0.38">1.17067</text>
<text x="489.9" y="14.9" font-size="12" fill="#22a493" font-weight="400" text-anchor="start" textLength="44.9" lengthAdjust="spacingAndGlyphs" stroke="#22a493" stroke-width="0.38">+0.00031</text>
<text x="541.0" y="14.9" font-size="12" fill="#22a493" font-weight="400" text-anchor="start" textLength="42.8" lengthAdjust="spacingAndGlyphs" stroke="#22a493" stroke-width="0.38">(+0.03%)</text>
<rect x="4" y="24.5" width="62.2" height="30.6" rx="4.2" fill="#f23645"/>
<text x="15.0" y="38.0" font-size="11" fill="#ffffff" font-weight="700" text-anchor="start" textLength="40.1" lengthAdjust="spacingAndGlyphs" >1.17069</text>
<text x="24.1" y="50.6" font-size="9.6" fill="#ffffff" font-weight="400" text-anchor="start" textLength="20.0" lengthAdjust="spacingAndGlyphs" stroke="#ffffff" stroke-width="0.38">SELL</text>
<text x="73.0" y="43.6" font-size="9.4" fill="#4a4b50" font-weight="400" text-anchor="start" textLength="12.6" lengthAdjust="spacingAndGlyphs" stroke="#4a4b50" stroke-width="0.38">0.0</text>
<rect x="93.2" y="24.5" width="61.4" height="30.6" rx="4.2" fill="#2962ff"/>
<text x="103.9" y="38.0" font-size="11" fill="#ffffff" font-weight="700" text-anchor="start" textLength="40.1" lengthAdjust="spacingAndGlyphs" >1.17069</text>
<text x="114.6" y="50.6" font-size="9.6" fill="#ffffff" font-weight="400" text-anchor="start" textLength="18.6" lengthAdjust="spacingAndGlyphs" stroke="#ffffff" stroke-width="0.38">BUY</text>
<text x="5.5" y="74.6" font-size="12" fill="#4a4e59" font-weight="400" text-anchor="start" textLength="15.1" lengthAdjust="spacingAndGlyphs" stroke="#4a4e59" stroke-width="0.38">Vol</text>
<text x="28.5" y="74.6" font-size="12" fill="#2fa89b" font-weight="400" text-anchor="start" textLength="19.5" lengthAdjust="spacingAndGlyphs" stroke="#2fa89b" stroke-width="0.38">6.89</text>
<text x="50.6" y="74.6" font-size="12" fill="#2fa89b" font-weight="400" text-anchor="start" textLength="10.3" lengthAdjust="spacingAndGlyphs" stroke="#2fa89b" stroke-width="0.38">M</text>
<rect x="2.6" y="83.4" width="25.8" height="17.8" rx="3" fill="#ffffff" stroke="#e0e3eb" stroke-width="1"/>
<path d="M12.2 94.2l3.2-3 3.2 3" fill="none" stroke="#131722" stroke-width="1.3" stroke-linecap="round" stroke-linejoin="round"/>
<rect x="715.0" y="1.8" width="3.0" height="1.4" fill="#3fe6f3"/>
<rect x="722.6" y="1.5" width="2.2" height="1.4" fill="#3fe6f3"/>
<rect x="766.0" y="0.0" width="1.5" height="1.4" fill="#3fe6f3"/>
<rect x="820.2" y="0.0" width="1.8" height="1.4" fill="#3fe6f3"/>
<text x="775.2" y="109.1" font-size="10.5" fill="#3f4045" font-weight="400" text-anchor="start" textLength="37.8" lengthAdjust="spacingAndGlyphs" stroke="#3f4045" stroke-width="0.38">1.17500</text>
<text x="775.2" y="193.6" font-size="10.5" fill="#3f4045" font-weight="400" text-anchor="start" textLength="37.8" lengthAdjust="spacingAndGlyphs" stroke="#3f4045" stroke-width="0.38">1.16500</text>
<text x="775.2" y="235.4" font-size="10.5" fill="#3f4045" font-weight="400" text-anchor="start" textLength="37.8" lengthAdjust="spacingAndGlyphs" stroke="#3f4045" stroke-width="0.38">1.16000</text>
<text x="775.2" y="277.6" font-size="10.5" fill="#3f4045" font-weight="400" text-anchor="start" textLength="37.8" lengthAdjust="spacingAndGlyphs" stroke="#3f4045" stroke-width="0.38">1.15500</text>
<text x="775.2" y="318.9" font-size="10.5" fill="#3f4045" font-weight="400" text-anchor="start" textLength="37.8" lengthAdjust="spacingAndGlyphs" stroke="#3f4045" stroke-width="0.38">1.15000</text>
<rect x="767.3" y="55.1" width="50.7" height="14.9" rx="1.2" fill="#2962ff"/>
<text x="775.2" y="66.5" font-size="10.5" fill="#ffffff" font-weight="400" text-anchor="start" textLength="37.8" lengthAdjust="spacingAndGlyphs" stroke="#ffffff" stroke-width="0.35">1.18000</text>
<rect x="767.3" y="103.2" width="50.7" height="14.6" rx="1.2" fill="#2962ff"/>
<text x="775.2" y="114.4" font-size="10.5" fill="#ffffff" font-weight="400" text-anchor="start" textLength="37.8" lengthAdjust="spacingAndGlyphs" stroke="#ffffff" stroke-width="0.35">1.17440</text>
<rect x="767.3" y="162.3" width="50.7" height="15.2" rx="1.2" fill="#2962ff"/>
<text x="775.2" y="173.8" font-size="10.5" fill="#ffffff" font-weight="400" text-anchor="start" textLength="37.8" lengthAdjust="spacingAndGlyphs" stroke="#ffffff" stroke-width="0.35">1.16825</text>
<rect x="767.3" y="187.3" width="50.7" height="15.1" rx="1.2" fill="#2962ff"/>
<text x="775.2" y="198.8" font-size="10.5" fill="#ffffff" font-weight="400" text-anchor="start" textLength="37.8" lengthAdjust="spacingAndGlyphs" stroke="#ffffff" stroke-width="0.35">1.16437</text>
<rect x="767.3" y="234.1" width="50.7" height="15.1" rx="1.2" fill="#2962ff"/>
<text x="775.2" y="245.5" font-size="10.5" fill="#ffffff" font-weight="400" text-anchor="start" textLength="37.8" lengthAdjust="spacingAndGlyphs" stroke="#ffffff" stroke-width="0.35">1.15884</text>
<rect x="767.3" y="134.1" width="50.7" height="28.4" rx="1.2" fill="#109a84"/>
<text x="775.2" y="146.3" font-size="10.5" fill="#ffffff" font-weight="400" text-anchor="start" textLength="37.8" lengthAdjust="spacingAndGlyphs" stroke="#ffffff" stroke-width="0.35">1.17067</text>
<text x="775.2" y="158.2" font-size="10.5" fill="#d3eee9" font-weight="400" text-anchor="start" textLength="25.5" lengthAdjust="spacingAndGlyphs" stroke="#d3eee9" stroke-width="0.38">09:36</text>
<clipPath id="axclip"><rect x="760" y="0" width="62" height="346.6"/></clipPath>
<g clip-path="url(#axclip)">
<rect x="767.3" y="339.1" width="50.7" height="14.9" rx="1.2" fill="#2962ff"/>
<text x="775.2" y="350.4" font-size="10.5" fill="#ffffff" font-weight="400" text-anchor="start" textLength="37.8" lengthAdjust="spacingAndGlyphs" stroke="#ffffff" stroke-width="0.35">1.14819</text>
</g>
<rect x="767.3" y="324.1" width="42.5" height="15.0" rx="1.2" fill="#26a69a"/>
<text x="775.2" y="335.6" font-size="10.5" fill="#ffffff" font-weight="400" text-anchor="start" textLength="18.0" lengthAdjust="spacingAndGlyphs" stroke="#ffffff" stroke-width="0.35">6.89</text>
<text x="795.6" y="335.6" font-size="10.5" fill="#ffffff" font-weight="400" text-anchor="start" textLength="9.6" lengthAdjust="spacingAndGlyphs" stroke="#ffffff" stroke-width="0.35">M</text>
<rect x="771.2" y="0.8" width="47" height="21.2" rx="4" fill="#ffffff" stroke="#e9ebf0" stroke-width="1"/>
<text x="773.8" y="15.0" font-size="11.5" fill="#3f4045" font-weight="400" text-anchor="start" textLength="18.4" lengthAdjust="spacingAndGlyphs" stroke="#3f4045" stroke-width="0.38">USD</text>
<path d="M809.6 10.4l2.4 2.4 2.4-2.4" fill="none" stroke="#131722" stroke-width="1.1" stroke-linecap="round" stroke-linejoin="round"/>
<text x="-1.5" y="362.9" font-size="10.5" fill="#3f4045" font-weight="400" text-anchor="middle" stroke="#3f4045" stroke-width="0.38">4</text>
<text x="66.5" y="362.9" font-size="10.5" fill="#3f4045" font-weight="400" text-anchor="middle" stroke="#3f4045" stroke-width="0.38">9</text>
<text x="117.4" y="362.9" font-size="10.5" fill="#3f4045" font-weight="400" text-anchor="middle" stroke="#3f4045" stroke-width="0.38">11</text>
<text x="186.5" y="362.9" font-size="10.5" fill="#3f4045" font-weight="400" text-anchor="middle" stroke="#3f4045" stroke-width="0.38">16</text>
<text x="236.5" y="362.9" font-size="10.5" fill="#3f4045" font-weight="400" text-anchor="middle" stroke="#3f4045" stroke-width="0.38">18</text>
<text x="305.2" y="362.9" font-size="10.5" fill="#3f4045" font-weight="400" text-anchor="middle" stroke="#3f4045" stroke-width="0.38">23</text>
<text x="355.5" y="362.9" font-size="10.5" fill="#3f4045" font-weight="400" text-anchor="middle" stroke="#3f4045" stroke-width="0.38">25</text>
<text x="454.3" y="362.9" font-size="10.5" fill="#3f4045" font-weight="400" text-anchor="middle" stroke="#3f4045" stroke-width="0.38">Jul</text>
<text x="521.5" y="362.9" font-size="10.5" fill="#3f4045" font-weight="400" text-anchor="middle" stroke="#3f4045" stroke-width="0.38">4</text>
<text x="571.0" y="362.9" font-size="10.5" fill="#3f4045" font-weight="400" text-anchor="middle" stroke="#3f4045" stroke-width="0.38">8</text>
<text x="640.5" y="362.9" font-size="10.5" fill="#3f4045" font-weight="400" text-anchor="middle" stroke="#3f4045" stroke-width="0.38">11</text>
<text x="690.0" y="362.9" font-size="10.5" fill="#3f4045" font-weight="400" text-anchor="middle" stroke="#3f4045" stroke-width="0.38">15</text>
<text x="760.0" y="362.9" font-size="10.5" fill="#3f4045" font-weight="400" text-anchor="middle" stroke="#3f4045" stroke-width="0.38">18</text>
<polygon points="801.5,359.7 798.4,365.2 792.1,365.2 788.9,359.7 792.1,354.2 798.4,354.2" fill="none" stroke="#2e3038" stroke-width="1.05" stroke-linejoin="round"/>
<circle cx="795.2" cy="359.7" r="2.1" fill="none" stroke="#2e3038" stroke-width="1.05"/>
<rect x="0" y="371.8" width="822" height="1" fill="#ececee"/>
<rect x="0" y="406.9" width="822" height="3.5" fill="#e8e8e9"/>
<text x="9.9" y="394.9" font-size="12" fill="#3f4045" font-weight="400" text-anchor="start" textLength="13.8" lengthAdjust="spacingAndGlyphs" stroke="#3f4045" stroke-width="0.38">1D</text>
<text x="35.0" y="394.9" font-size="12" fill="#3f4045" font-weight="400" text-anchor="start" textLength="14.3" lengthAdjust="spacingAndGlyphs" stroke="#3f4045" stroke-width="0.38">5D</text>
<text x="60.6" y="394.9" font-size="12" fill="#3f4045" font-weight="400" text-anchor="start" textLength="14.9" lengthAdjust="spacingAndGlyphs" stroke="#3f4045" stroke-width="0.38">1M</text>
<text x="86.5" y="394.9" font-size="12" fill="#3f4045" font-weight="400" text-anchor="start" textLength="15.0" lengthAdjust="spacingAndGlyphs" stroke="#3f4045" stroke-width="0.38">3M</text>
<text x="112.4" y="394.9" font-size="12" fill="#3f4045" font-weight="400" text-anchor="start" textLength="16.1" lengthAdjust="spacingAndGlyphs" stroke="#3f4045" stroke-width="0.38">6M</text>
<text x="138.7" y="394.9" font-size="12" fill="#3f4045" font-weight="400" text-anchor="start" textLength="22.6" lengthAdjust="spacingAndGlyphs" stroke="#3f4045" stroke-width="0.38">YTD</text>
<text x="172.6" y="394.9" font-size="12" fill="#3f4045" font-weight="400" text-anchor="start" textLength="13.5" lengthAdjust="spacingAndGlyphs" stroke="#3f4045" stroke-width="0.38">1Y</text>
<text x="197.1" y="394.9" font-size="12" fill="#3f4045" font-weight="400" text-anchor="start" textLength="13.8" lengthAdjust="spacingAndGlyphs" stroke="#3f4045" stroke-width="0.38">5Y</text>
<text x="221.2" y="394.9" font-size="12" fill="#3f4045" font-weight="400" text-anchor="start" textLength="14.6" lengthAdjust="spacingAndGlyphs" stroke="#3f4045" stroke-width="0.38">All</text>
<rect x="245.0" y="380.2" width="1" height="19.4" fill="#ebebed"/>
<g fill="none" stroke="#2a2e39" stroke-width="1.15" stroke-linecap="round" stroke-linejoin="round">
<path d="M259.2 388.5V384.3a1.8 1.8 0 0 1 1.8-1.8H273.3a1.8 1.8 0 0 1 1.8 1.8V394.8a1.8 1.8 0 0 1-1.8 1.8H267.3"/>
<path d="M259.2 386.5H275.1"/><path d="M263.6 381v2.6"/><path d="M270.1 381v2.6"/>
<path d="M258.3 393.8H264.8"/><path d="M262.4 391.4l2.5 2.4-2.5 2.4"/>
</g>
<text x="725.5" y="394.9" font-size="12" fill="#3f4045" font-weight="400" text-anchor="start" textLength="88.0" lengthAdjust="spacingAndGlyphs" stroke="#3f4045" stroke-width="0.38">10:50:24 UTC+3</text>
<path d="M317.9 439v-20.6a6 6 0 0 1 6-6h57.7a6 6 0 0 1 6 6v20.6z" fill="#ececec"/>
<rect x="390.0" y="417.6" width="52.6" height="19.6" rx="5.5" fill="#ffffff" stroke="#ebebeb" stroke-width="1"/>
<text x="11.7" y="432.5" font-size="12.5" fill="#3f4045" font-weight="400" text-anchor="start" textLength="60.6" lengthAdjust="spacingAndGlyphs" stroke="#3f4045" stroke-width="0.38">Pine Editor</text>
<text x="101.5" y="432.5" font-size="12.5" fill="#3f4045" font-weight="400" text-anchor="start" textLength="84.6" lengthAdjust="spacingAndGlyphs" stroke="#3f4045" stroke-width="0.38">Strategy Tester</text>
<text x="216.1" y="432.5" font-size="12.5" fill="#3f4045" font-weight="400" text-anchor="start" textLength="81.3" lengthAdjust="spacingAndGlyphs" stroke="#3f4045" stroke-width="0.38">Replay Trading</text>
<text x="326.9" y="432.5" font-size="12.5" fill="#3f4045" font-weight="400" text-anchor="start" textLength="42.2" lengthAdjust="spacingAndGlyphs" stroke="#3f4045" stroke-width="0.38">FXOpen</text>
<text x="401.2" y="432.5" font-size="12.5" fill="#3f4045" font-weight="400" text-anchor="start" textLength="31.2" lengthAdjust="spacingAndGlyphs" stroke="#3f4045" stroke-width="0.38">Trade</text>
<circle cx="376.3" cy="427.8" r="2.8" fill="#56b65a"/>
<path d="M766.4 432.7h13.3" stroke="#131722" stroke-width="1.3" stroke-linecap="round"/>
<g fill="none" stroke="#131722" stroke-width="1.3" stroke-linecap="round">
<path d="M798.2 424.6v-1.6a2.6 2.6 0 0 1 2.6-2.6h9.0a2.6 2.6 0 0 1 2.6 2.6v1.6"/>
<path d="M798.2 430.4v1.6a2.6 2.6 0 0 0 2.6 2.6h9.0a2.6 2.6 0 0 0 2.6-2.6v-1.6"/>
</g>
</svg></body></html>
